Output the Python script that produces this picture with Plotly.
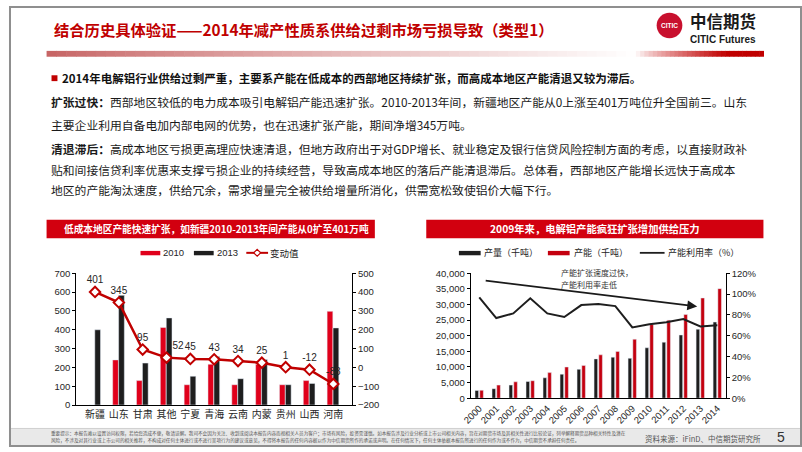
import plotly.graph_objects as go

W, H = 802, 452
def X(px): return px / W
def Y(py): return 1 - py / H

# ---------------- data ----------------
provinces = ["新疆", "山东", "甘肃", "其他", "宁夏", "青海", "云南", "内蒙", "贵州", "山西", "河南"]
cap_2010 = [0, 240, 130, 412, 108, 217, 108, 217, 108, 130, 498]
cap_2013 = [400, 583, 223, 463, 153, 258, 140, 242, 108, 115, 410]
change = [401, 345, 95, 52, 45, 43, 34, 25, 1, -12, -88]

years = [str(y) for y in range(2000, 2015)]
output_kt = [2500, 3050, 4200, 5350, 6550, 7700, 9250, 12600, 13150, 12800, 16150, 17950, 20250, 22100, 24400]
capacity_kt = [2550, 4200, 5250, 5600, 8200, 10000, 10500, 13900, 15000, 18900, 23600, 25000, 26800, 32100, 35100]
utilization = [0.97, 0.77, 0.815, 0.96, 0.815, 0.78, 0.895, 0.905, 0.885, 0.68, 0.71, 0.73, 0.76, 0.69, 0.70]

title = "结合历史具体验证——2014年减产性质系供给过剩市场亏损导致（类型1）"
lead = "2014年电解铝行业供给过剩严重，主要系产能在低成本的西部地区持续扩张，而高成本地区产能清退又较为滞后。"
body_lines = [
    ("扩张过快：", "西部地区较低的电力成本吸引电解铝产能迅速扩张。2010-2013年间，新疆地区产能从0上涨至401万吨位升全国前三。山东"),
    ("", "主要企业利用自备电加内部电网的优势，也在迅速扩张产能，期间净增345万吨。"),
    ("清退滞后：", "高成本地区亏损更高理应快速清退，但地方政府出于对GDP增长、就业稳定及银行信贷风险控制方面的考虑，以直接财政补"),
    ("", "贴和间接信贷利率优惠来支撑亏损企业的持续经营，导致高成本地区的落后产能清退滞后。总体看，西部地区产能增长远快于高成本"),
    ("", "地区的产能淘汰速度，供给冗余，需求增量完全被供给增量所消化，供需宽松致使铝价大幅下行。"),
]
left_header = "低成本地区产能快速扩张，如新疆2010-2013年间产能从0扩至401万吨"
right_header = "2009年来，电解铝产能疯狂扩张增加供给压力"
left_legend = ["2010", "2013", "变动值"]
right_legend = ["产量（千吨）", "产能（千吨）", "产能利用率（%）"]
arrow_note = ["产能扩张速度过快，", "产能利用率走低"]
source = "资料来源：iFinD、中信期货研究所"
page_no = "5"
disclaimer = [
    "重要提示：本报告难以设置访问权限，若给您造成不便，敬请谅解。我司不会因为关注、收到或阅读本报告内容而视相关人员为客户；市场有风险，投资需谨慎。如本报告涉及行业分析或上市公司相关内容，旨在对期货市场及其相关性进行比较论证，列举解释期货品种相关特性及潜在",
    "风险，不涉及对其行业或上市公司的相关推荐，不构成对任何主体进行或不进行某项行为的建议或意见，不得将本报告的任何内容据以作为中信期货所作的承诺或声明。在任何情况下，任何主体依据本报告所进行的任何作为或不作为，中信期货不承担任何责任。",
]

# ---------------- style ----------------
RED = "#e0001b"
RED2 = "#c4000f"
DARK_RED = "#c00000"
BLACK = "#1e1e1e"
CJK = "Noto Sans CJK SC"
LAT = "Liberation Sans"
TXT = "#262626"

fig = go.Figure()

# left chart
fig.add_trace(go.Bar(x=provinces, y=cap_2010, marker_color=RED, width=0.24, offset=-0.26,
                     xaxis="x", yaxis="y", name=left_legend[0]))
fig.add_trace(go.Bar(x=provinces, y=cap_2013, marker_color=BLACK, width=0.24, offset=-0.01,
                     xaxis="x", yaxis="y", name=left_legend[1]))
tpos = ["top center"] * len(change)
tpos[provinces.index("其他")] = "top right"
fig.add_trace(go.Scatter(x=provinces, y=change, xaxis="x", yaxis="y2", name=left_legend[2],
                         mode="lines+markers+text", text=[str(v) for v in change],
                         textposition=tpos, textfont=dict(family=LAT, size=10, color=TXT),
                         line=dict(color=DARK_RED, width=2.5),
                         marker=dict(symbol="diamond", size=8, color="white",
                                     line=dict(color=DARK_RED, width=2))))

# right chart
fig.add_trace(go.Bar(x=years, y=output_kt, marker_color=BLACK, width=0.21, offset=-0.25,
                     xaxis="x2", yaxis="y3", name=right_legend[0]))
fig.add_trace(go.Bar(x=years, y=capacity_kt, marker_color=RED2, width=0.21, offset=0.03,
                     xaxis="x2", yaxis="y3", name=right_legend[1]))
fig.add_trace(go.Scatter(x=years, y=utilization, xaxis="x2", yaxis="y4", name=right_legend[2],
                         mode="lines", line=dict(color=BLACK, width=2)))

axis_common = dict(showline=True, linecolor="#000000", linewidth=1, showgrid=False,
                   zeroline=False, ticks="outside", ticklen=3, tickcolor="#000000",
                   tickfont=dict(family=LAT, size=9.5, color=TXT))

fig.update_layout(
    width=W, height=H, margin=dict(l=0, r=0, t=0, b=0),
    paper_bgcolor="white", plot_bgcolor="white", showlegend=False,
    font=dict(family=LAT, color=TXT),
    xaxis=dict(domain=[X(68), X(347)], anchor="y", type="category", showline=True,
               linecolor="#000000", ticks="", showgrid=False, zeroline=False,
               tickfont=dict(family=CJK, size=10, color=TXT)),
    yaxis=dict(domain=[Y(409), Y(274)], anchor="x", range=[0, 700], dtick=100, **axis_common),
    yaxis2=dict(overlaying="y", side="right", anchor="x", range=[-200, 500], dtick=100, **axis_common),
    xaxis2=dict(domain=[X(467), X(725)], anchor="y3", type="category", showline=True,
                linecolor="#000000", ticks="", showgrid=False, zeroline=False, tickangle=-45,
                tickfont=dict(family=LAT, size=9.5, color=TXT)),
    yaxis3=dict(domain=[Y(402), Y(274)], anchor="x2", range=[0, 40000], dtick=5000,
                tickformat=",", **axis_common),
    yaxis4=dict(overlaying="y3", side="right", anchor="x2", range=[0, 1.2], dtick=0.2,
                tickformat=".0%", **axis_common),
)

shapes = []
ann = []

def rect(x0, y0, x1, y1, fill, line=None, lw=0, layer="below"):
    d = dict(type="rect", xref="paper", yref="paper", x0=X(x0), x1=X(x1), y0=Y(y1), y1=Y(y0),
             fillcolor=fill, layer=layer, line=dict(width=lw, color=line or fill))
    shapes.append(d)

def text(x, y, s, size, color=TXT, family=CJK, xanchor="left", **kw):
    ann.append(dict(xref="paper", yref="paper", x=X(x), y=Y(y), text=s, showarrow=False,
                    xanchor=xanchor, yanchor="middle", borderpad=0,
                    font=dict(family=family, size=size, color=color), **kw))

# footer band
rect(0, 433, 802, 452, "#e9e9e9")
shapes.append(dict(type="line", xref="paper", yref="paper", x0=0, x1=1, y0=Y(433), y1=Y(433),
                   line=dict(color="#cfcfcf", width=1)))
# page border
shapes.append(dict(type="rect", xref="paper", yref="paper", x0=X(1), x1=X(801), y0=Y(451), y1=Y(1),
                   line=dict(color="#8f8f8f", width=2), fillcolor="rgba(0,0,0,0)", layer="above"))

# gradient bar under title
def mix(c1, c2, t):
    return "rgb(%d,%d,%d)" % tuple(round(a + (b - a) * t) for a, b in zip(c1, c2))
n = 60
x0, x1 = 38, 634
for i in range(n):
    a = x0 + (x1 - x0) * i / n
    b = x0 + (x1 - x0) * (i + 1) / n + 0.6
    t = (i + 0.5) / n
    rect(a, 46, b, 52, mix((198, 98, 98), (255, 255, 255), t ** 0.85))
n2 = 30
x0, x1 = 634, 763
for i in range(n2):
    a = x0 + (x1 - x0) * i / n2
    b = x0 + (x1 - x0) * (i + 1) / n2 + 0.6
    t = (i + 0.5) / n2
    rect(a, 46, b, 52, mix((255, 255, 255), (192, 0, 0), min(1, t * 1.4) ** 0.8))

# title
text(44, 24, "<b>" + title + "</b>", 15.3, color=DARK_RED)

# logo
shapes.append(dict(type="circle", xref="paper", yref="paper", x0=X(655), x1=X(681), y0=Y(33), y1=Y(7),
                   fillcolor="#c8102e", line=dict(color="#c8102e", width=0)))
text(668, 20, "<b>CITIC</b>", 6.5, color="white", family="Liberation Sans Narrow, Liberation Sans", xanchor="center")
text(688, 15.5, "<b>中信期货</b>", 16.5, color="#1a1a1a")
text(688, 34, "<b>CITIC Futures</b>", 10, color="#1a1a1a", family="Liberation Sans Narrow, Liberation Sans")

# body text
rect(43, 71, 49, 77, DARK_RED)
text(53, 74, "<b>" + lead + "</b>", 11.5, color="#111111")
ys = [98, 121, 146, 168, 188]
for (pre, rest), yy in zip(body_lines, ys):
    s = ("<b>" + pre + "</b>" if pre else "") + rest
    text(41, yy, s, 11.8, color="#1a1a1a")

# chart headers
rect(38, 219, 370, 238, "#d2000f")
text(210, 228.5, "<b>" + left_header + "</b>", 9.7, color="white", xanchor="center")
rect(422, 219, 763, 238, "#d2000f")
text(592.5, 228.5, "<b>" + right_header + "</b>", 10.3, color="white", xanchor="center")

# left legend
rect(133, 251, 153, 255.5, RED)
text(155, 253, left_legend[0], 9.5, family=LAT)
rect(187, 251, 207, 255.5, BLACK)
text(209, 253, left_legend[1], 9.5, family=LAT)
shapes.append(dict(type="line", xref="paper", yref="paper", x0=X(240), x1=X(262), y0=Y(253), y1=Y(253),
                   line=dict(color=DARK_RED, width=2)))
dpath = "M %f,%f L %f,%f L %f,%f L %f,%f Z" % (X(251), Y(249.5), X(254.5), Y(253), X(251), Y(256.5), X(247.5), Y(253))
shapes.append(dict(type="path", xref="paper", yref="paper", path=dpath, fillcolor="white",
                   line=dict(color=DARK_RED, width=1.2)))
text(263, 253, left_legend[2], 9.5)

# right legend
rect(455, 251, 477, 255.5, BLACK)
text(479, 253, right_legend[0], 9)
rect(545, 251, 567, 255.5, RED2)
text(570, 253, right_legend[1], 9)
shapes.append(dict(type="line", xref="paper", yref="paper", x0=X(638), x1=X(663), y0=Y(253), y1=Y(253),
                   line=dict(color=BLACK, width=1.8)))
text(665, 253, right_legend[2], 9)

# arrow annotation in right chart (head position, tail offset in pixels)
ann.append(dict(xref="paper", yref="paper", x=X(696), y=Y(308), ax=483 - 696, ay=282 - 308,
                showarrow=True, arrowhead=2, arrowsize=1.1,
                arrowwidth=1.8, arrowcolor="#1a1a1a", text=""))
text(557, 273, arrow_note[0], 8, color="#333333")
text(557, 285, arrow_note[1], 8, color="#333333")

# footer text
text(41, 438.5, disclaimer[0], 4.6, color="#555555")
text(41, 445.5, disclaimer[1], 4.6, color="#555555")
text(642, 443, source, 7.5, color="#555555")
text(781, 442, page_no, 14, color="#333333", family=LAT, xanchor="center")

fig.update_layout(shapes=shapes, annotations=ann)
fig.write_html("out.html")
